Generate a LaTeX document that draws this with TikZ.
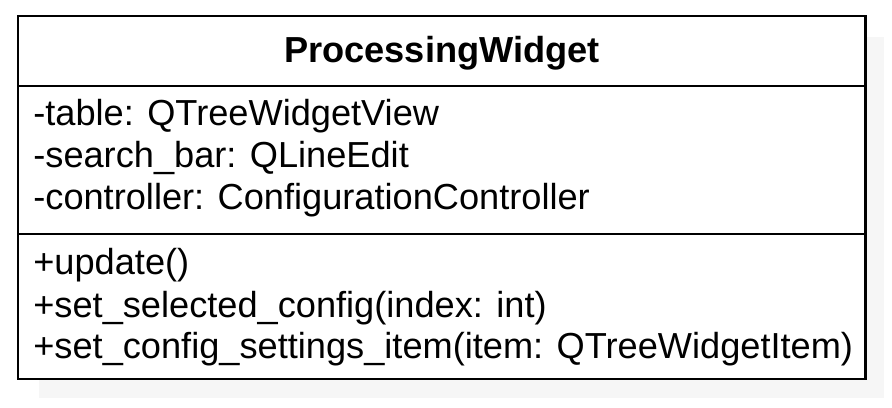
\documentclass[tikz,border=0pt]{standalone}
\usepackage{fontspec}
\setmainfont{Liberation Sans}
\tikzset{
  member/.style={anchor=base west, inner sep=0pt, font=\fontsize{20.6}{24}\selectfont},
  classname/.style={anchor=base, inner sep=0pt, font=\fontsize{20.6}{24}\selectfont\bfseries}
}
\begin{document}
\begin{tikzpicture}[x=0.02cm,y=-0.02cm]
  \useasboundingbox (0,0) rectangle (892,408);
  \coordinate (tl) at (18,16);
  \coordinate (br) at (865,379);
  \coordinate (d1l) at (18,86);
  \coordinate (d1r) at (865,86);
  \coordinate (d2l) at (18,234);
  \coordinate (d2r) at (865,234);

  \fill[gray!7] (39,37) rectangle (884,398);
  \draw[line width=1.7pt, fill=white] (tl) rectangle (br);
  \draw[line width=1.7pt] (d1l) -- (d1r);
  \draw[line width=1.7pt] (d2l) -- (d2r);

  \node[classname] (name) at (442,63) {ProcessingWidget};
  \node[member] (attr1) at (33,126) {-table: QTreeWidgetView};
  \node[member] (attr2) at (33,168) {-search\_bar: QLineEdit};
  \node[member] (attr3) at (33,210) {-controller: ConfigurationController};
  \node[member] (op1) at (33,275) {+update()};
  \node[member] (op2) at (33,317) {+set\_selected\_config(index: int)};
  \node[member] (op3) at (33,358) {+set\_config\_settings\_item(item: QTreeWidgetItem)};
\end{tikzpicture}
\end{document}
